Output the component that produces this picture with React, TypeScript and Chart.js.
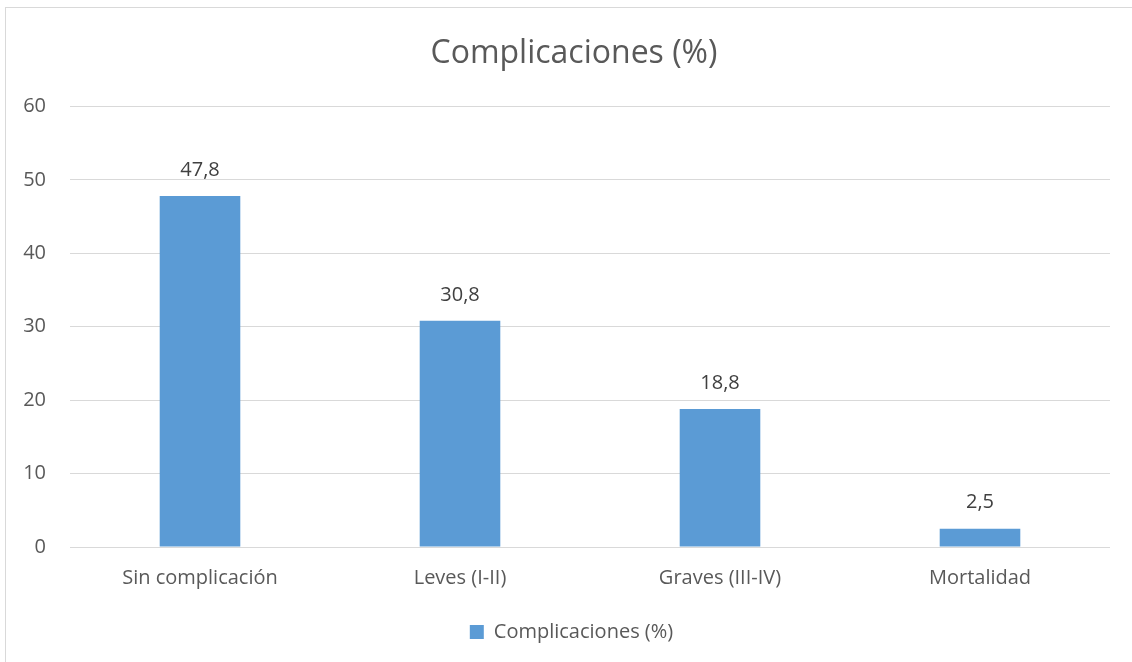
import React, { useEffect, useRef } from "react";
import { Chart, registerables } from "chart.js";

Chart.register(...registerables);

const categories = ["Sin complicación", "Leves (I-II)", "Graves (III-IV)", "Mortalidad"];
const values = [47.8, 30.8, 18.8, 2.5];
const seriesName = "Complicaciones (%)";
const titleText = "Complicaciones (%)";

const FONT = "'Open Sans', 'Noto Sans', sans-serif";

const frame = {
  id: "frame",
  beforeDraw(chart: any) {
    const ctx = chart.ctx;
    ctx.save();
    ctx.fillStyle = "#ffffff";
    ctx.fillRect(0, 0, chart.width, chart.height);
    ctx.strokeStyle = "#d9d9d9";
    ctx.lineWidth = 1;
    ctx.strokeRect(5.5, 7.5, chart.width + 20, chart.height + 20);
    ctx.restore();
  },
};

// shift the centred title and legend boxes so they centre over the whole frame
const recentre = {
  id: "recentre",
  afterLayout(chart: any) {
    if (chart.titleBlock) {
      chart.titleBlock.left = 38;
      chart.titleBlock.width = chart.titleBlock.right - 38;
    }
    if (chart.legend) {
      chart.legend.left = 33;
      chart.legend.width = chart.legend.right - 33;
    }
  },
};

const dataLabels = {
  id: "dataLabels",
  afterDatasetsDraw(chart: any) {
    const ctx = chart.ctx;
    const meta = chart.getDatasetMeta(0);
    const ds = chart.data.datasets[0];
    ctx.save();
    ctx.font = `20px ${FONT}`;
    ctx.fillStyle = "#404040";
    ctx.textAlign = "center";
    ctx.textBaseline = "middle";
    meta.data.forEach((bar: any, i: number) => {
      const v = ds.data[i] as number;
      ctx.fillText(v.toFixed(1).replace(".", ","), bar.x, bar.y - 26);
    });
    ctx.restore();
  },
};

export default function App() {
  const ref = useRef<HTMLCanvasElement | null>(null);
  useEffect(() => {
    if (!ref.current) return;
    const chart = new Chart(ref.current, {
      type: "bar",
      data: {
        labels: categories,
        datasets: [
          {
            label: seriesName,
            data: values,
            backgroundColor: "#5b9bd5",
            borderWidth: 0,
            barPercentage: 0.62,
            categoryPercentage: 0.5,
          },
        ],
      },
      options: {
        animation: false,
        responsive: false,
        maintainAspectRatio: false,
        layout: { padding: { left: 0, right: 22, top: 0, bottom: 10 } },
        scales: {
          x: {
            grid: { display: false, drawTicks: false },
            border: { display: false },
            ticks: { color: "#595959", font: { family: FONT, size: 20 }, padding: 19 },
            afterFit: (s: any) => { s.height = 65; },
          },
          y: {
            min: 0,
            max: 60,
            ticks: { stepSize: 10, color: "#595959", font: { family: FONT, size: 20 }, padding: 24 },
            grid: { color: "#d9d9d9", lineWidth: 1, drawTicks: false },
            border: { display: false },
            afterFit: (s: any) => { s.width = 70; },
          },
        },
        plugins: {
          title: {
            display: true,
            text: titleText,
            color: "#595959",
            font: { family: FONT, size: 32, weight: "normal" },
            padding: { top: 35, bottom: 33 },
          },
          legend: {
            position: "bottom",
            labels: {
              color: "#595959",
              font: { family: FONT, size: 20 },
              boxWidth: 14,
              boxHeight: 14,
              padding: 10,
            },
          },
          tooltip: { enabled: false },
        },
      },
      plugins: [frame, recentre, dataLabels],
    });
    return () => chart.destroy();
  }, []);
  return (
    <div style={{ position: "fixed", left: 0, top: 0, width: 1132, height: 662 }}>
      <canvas ref={ref} width={1132} height={662} style={{ width: 1132, height: 662 }} />
    </div>
  );
}
